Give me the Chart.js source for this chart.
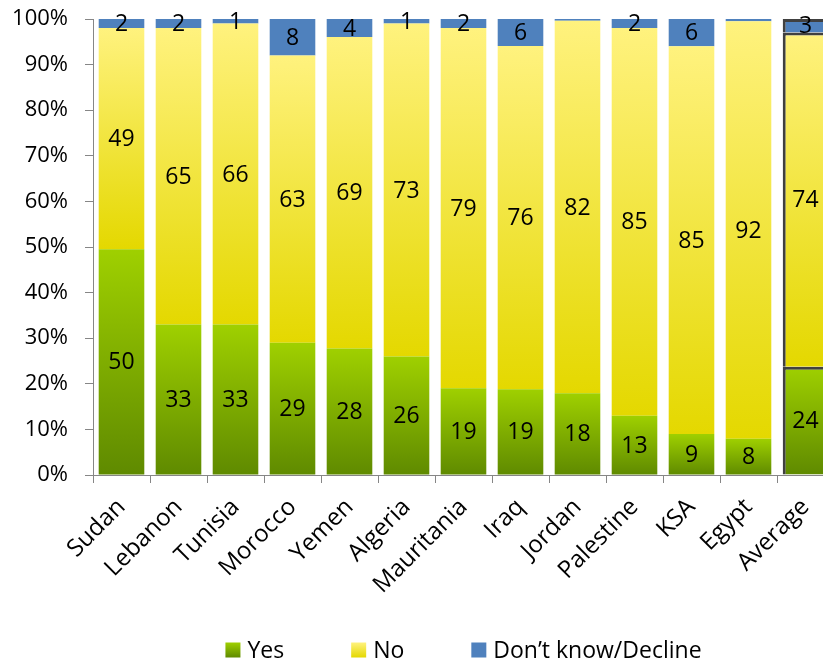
<!DOCTYPE html>
<html>
<head>
<meta charset="utf-8">
<script src="https://cdn.jsdelivr.net/npm/chart.js@4.4.1/dist/chart.umd.min.js"></script>
<style>
  html, body { margin: 0; padding: 0; background: #fff; overflow: hidden; }
  #wrap { width: 840px; height: 664px; }
</style>
</head>
<body>
<div id="wrap"><canvas id="surveyChart"></canvas></div>
<script>
// Survey answers per country (raw percentages as printed on the bars)
const countries = ['Sudan', 'Lebanon', 'Tunisia', 'Morocco', 'Yemen', 'Algeria', 'Mauritania',
                   'Iraq', 'Jordan', 'Palestine', 'KSA', 'Egypt', 'Average'];
const yesValues = [50, 33, 33, 29, 28, 26, 19, 19, 18, 13, 9, 8, 24];
const noValues  = [49, 65, 66, 63, 69, 73, 79, 76, 82, 85, 85, 92, 74];
const dkValues  = [2, 2, 1, 8, 4, 1, 2, 6, 0.4, 2, 6, 0.5, 3];
const seriesNames = ['Yes', 'No', 'Don\u2019t know/Decline'];
const yTickLabels = ['0%', '10%', '20%', '30%', '40%', '50%', '60%', '70%', '80%', '90%', '100%'];

const FONT = '"Open Sans", Lato, sans-serif';
const avgIndex = countries.indexOf('Average');

// each bar is stretched to 100%
const totals = countries.map((c, i) => yesValues[i] + noValues[i] + dkValues[i]);
const share = arr => arr.map((v, i) => v / totals[i] * 100);

const greenStops = ['#5f8a00', '#9fd000'];
const yellowStops = ['#e4d800', '#fff27e'];

// vertical gradient spanning the segment itself (bottom -> top)
function segmentFill(stops, flat) {
  return function (ctx) {
    const chart = ctx.chart;
    if (!chart.chartArea || ctx.type !== 'data') return flat;
    const y = chart.scales.y;
    const i = ctx.dataIndex;
    let base = 0;
    for (let d = 0; d < ctx.datasetIndex; d++) base += chart.data.datasets[d].data[i];
    const top = base + chart.data.datasets[ctx.datasetIndex].data[i];
    const g = chart.ctx.createLinearGradient(0, y.getPixelForValue(base), 0, y.getPixelForValue(top));
    g.addColorStop(0, stops[0]);
    g.addColorStop(1, stops[1]);
    return g;
  };
}

const avgBorderColor = ctx => ctx.dataIndex === avgIndex ? '#404040' : 'rgba(0,0,0,0)';
const avgBorderWidth = ctx => ctx.dataIndex === avgIndex ? 3 : 0;

// numbers in the middle of each segment
const segmentLabels = {
  id: 'segmentLabels',
  afterDatasetsDraw(chart) {
    const { ctx } = chart;
    ctx.save();
    ctx.font = '23px ' + FONT;
    ctx.fillStyle = '#000';
    ctx.textAlign = 'center';
    ctx.textBaseline = 'middle';
    chart.data.datasets.forEach((ds, di) => {
      chart.getDatasetMeta(di).data.forEach((bar, i) => {
        const raw = ds.rawValues[i];
        if (raw < 1) return;
        const p = bar.getProps(['x', 'y', 'base'], true);
        ctx.fillText(String(raw), p.x, (p.y + p.base) / 2 + 1);
      });
    });
    ctx.restore();
  }
};

// legend drawn below, wide spacing like the original
const bottomLegend = {
  id: 'bottomLegend',
  afterDraw(chart) {
    const { ctx, chartArea } = chart;
    const box = 15, gap = 7, spacing = 67;
    ctx.save();
    ctx.font = '23px ' + FONT;
    const items = chart.data.datasets.map(ds => ({ ds, w: ctx.measureText(ds.label).width }));
    const total = items.reduce((s, it) => s + box + gap + it.w, 0) + spacing * (items.length - 1);
    let x = (chartArea.left + chartArea.right) / 2 - total / 2;
    const cy = chart.height - 14;
    items.forEach(it => {
      let fill = it.ds.legendStops[0];
      if (it.ds.legendStops.length > 1) {
        fill = ctx.createLinearGradient(0, cy + box / 2, 0, cy - box / 2);
        fill.addColorStop(0, it.ds.legendStops[0]);
        fill.addColorStop(1, it.ds.legendStops[1]);
      }
      ctx.fillStyle = fill;
      ctx.fillRect(x, cy - box / 2, box, box);
      ctx.fillStyle = '#000';
      ctx.textBaseline = 'middle';
      ctx.textAlign = 'left';
      ctx.fillText(it.ds.label, x + box + gap, cy + 1);
      x += box + gap + it.w + spacing;
    });
    ctx.restore();
  }
};

const chart = new Chart(document.getElementById('surveyChart'), {
  type: 'bar',
  data: {
    labels: countries,
    datasets: [
      {
        label: seriesNames[0],
        data: share(yesValues),
        rawValues: yesValues,
        legendStops: greenStops,
        backgroundColor: segmentFill(greenStops, '#80b000'),
        borderColor: avgBorderColor,
        borderWidth: avgBorderWidth
      },
      {
        label: seriesNames[1],
        data: share(noValues),
        rawValues: noValues,
        legendStops: yellowStops,
        backgroundColor: segmentFill(yellowStops, '#f2e640'),
        borderColor: avgBorderColor,
        borderWidth: avgBorderWidth
      },
      {
        label: seriesNames[2],
        data: share(dkValues),
        rawValues: dkValues,
        legendStops: ['#4f81bd'],
        backgroundColor: '#4f81bd',
        borderColor: avgBorderColor,
        borderWidth: avgBorderWidth
      }
    ]
  },
  options: {
    responsive: true,
    maintainAspectRatio: false,
    animation: false,
    categoryPercentage: 1.0,
    barPercentage: 0.8,
    layout: { padding: { top: 19, right: 6, bottom: 0, left: 0 } },
    plugins: {
      legend: { display: false },
      tooltip: { enabled: false }
    },
    scales: {
      x: {
        stacked: true,
        border: { color: '#868686' },
        grid: { drawOnChartArea: false, drawTicks: true, tickLength: 8, color: '#868686' },
        ticks: {
          color: '#000',
          font: { family: FONT, size: 24 },
          minRotation: 45,
          maxRotation: 45,
          autoSkip: false,
          padding: 10
        },
        afterFit: s => { s.height = 189; s.paddingLeft = 0; s.paddingRight = 0; }
      },
      y: {
        stacked: true,
        min: 0,
        max: 100,
        border: { color: '#868686' },
        grid: { drawOnChartArea: false, drawTicks: true, tickLength: 8, color: '#868686' },
        ticks: {
          stepSize: 10,
          color: '#000',
          font: { family: FONT, size: 22 },
          padding: 17,
          callback: v => yTickLabels[Math.round(v / 10)]
        },
        afterFit: s => { s.width = 93; s.paddingTop = 0; s.paddingBottom = 0; }
      }
    }
  },
  plugins: [segmentLabels, bottomLegend]
});
</script>
</body>
</html>
